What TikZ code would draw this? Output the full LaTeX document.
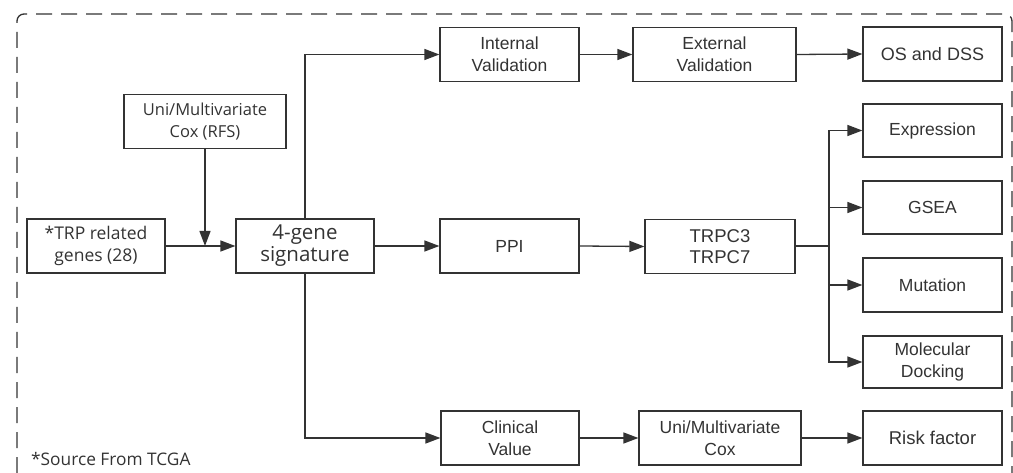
\documentclass[tikz,border=0pt]{standalone}
\usepackage{fontspec}
\setmainfont{Liberation Sans}
\newfontfamily\segoe{Open Sans}
\usetikzlibrary{arrows.meta}
\definecolor{ink}{HTML}{333333}
\tikzset{
  box/.style={draw=ink, line width=1.2pt, rectangle, minimum height=54pt, align=center, text=ink, inner sep=0pt, font=\fontsize{17.5pt}{22pt}\selectfont},
  segbox/.style={box, font=\segoe\fontsize{17.5pt}{22pt}\selectfont},
  conn/.style={draw=ink, line width=1.3pt},
  arr/.style={conn, -{Triangle[length=15pt,width=11pt]}},
  frame/.style={draw=ink, line width=1.3pt, dash pattern=on 16pt off 9pt, rounded corners=7pt}
}
\begin{document}
\begin{tikzpicture}[x=1pt,y=-1pt]
\useasboundingbox (0,0) rectangle (1013,473);
\draw[frame] (17,473) -- (17,14) -- (1012,14) -- (1012,473);

\node[segbox, minimum width=162pt, font=\segoe\fontsize{16.5pt}{22pt}\selectfont] (cox1) at (205,121.5) {Uni/Multivariate\\Cox (RFS)};
\node[segbox, minimum width=138pt] (trp) at (96,246) {*TRP related\\genes (28)};
\node[segbox, minimum width=138pt, font=\segoe\fontsize{20.5pt}{22pt}\selectfont] (gene) at (305,246) {4-gene\\signature};

\node[box, minimum width=139pt] (intval) at (509.5,54.5) {Internal\\Validation};
\node[box, minimum width=163pt] (extval) at (714.5,54.5) {External\\Validation};
\node[box, minimum width=139pt, font=\fontsize{18pt}{22pt}\selectfont] (os) at (932.5,54) {OS and DSS};

\node[box, minimum width=139pt] (ppi) at (509.5,246) {PPI};
\node[box, minimum width=150pt, font=\fontsize{18.5pt}{21pt}\selectfont] (trpc) at (720,246.5) {TRPC3\\TRPC7};

\node[box, minimum width=139pt, minimum height=53pt] (expr) at (932.5,130.5) {Expression};
\node[box, minimum width=139pt, minimum height=53pt] (gsea) at (932.5,207.5) {GSEA};
\node[box, minimum width=139pt] (mut) at (932.5,285) {Mutation};
\node[box, minimum width=139pt, minimum height=52pt] (dock) at (932.5,362) {Molecular\\Docking};

\node[box, minimum width=138pt] (clin) at (510,438) {Clinical\\Value};
\node[box, minimum width=162pt] (cox2) at (720,438) {Uni/Multivariate\\Cox};
\node[box, minimum width=139pt, font=\fontsize{18.5pt}{22pt}\selectfont] (risk) at (932.5,438) {Risk factor};

\node[anchor=base west, text=ink, inner sep=0pt, font=\segoe\fontsize{17.3pt}{22pt}\selectfont] (src) at (31,465) {*Source From TCGA};

% left part
\coordinate (join) at (cox1.south |- trp.east);
\draw[arr] (trp.east) -- (gene.west);
\draw[arr] (cox1.south) -- (join);

% branches from signature
\draw[arr] (gene.north) |- (intval.west);
\draw[arr] (gene.east) -- (ppi.west);
\draw[arr] (gene.south) |- (clin.west);

% top row
\draw[arr] (intval.east) -- (extval.west);
\draw[arr] (extval.east) -- (os.west);

% middle row
\draw[arr] (ppi.east) -- (trpc.west);
\coordinate (br) at (829,246.5);
\draw[conn, line width=2pt] (trpc.east) -- (br);
\draw[arr] (br) |- (expr.west);
\draw[arr] (br) |- (gsea.west);
\draw[arr] (br) |- (mut.west);
\draw[arr] (br) |- (dock.west);

% bottom row
\draw[arr] (clin.east) -- (cox2.west);
\draw[arr] (cox2.east) -- (risk.west);
\end{tikzpicture}
\end{document}
